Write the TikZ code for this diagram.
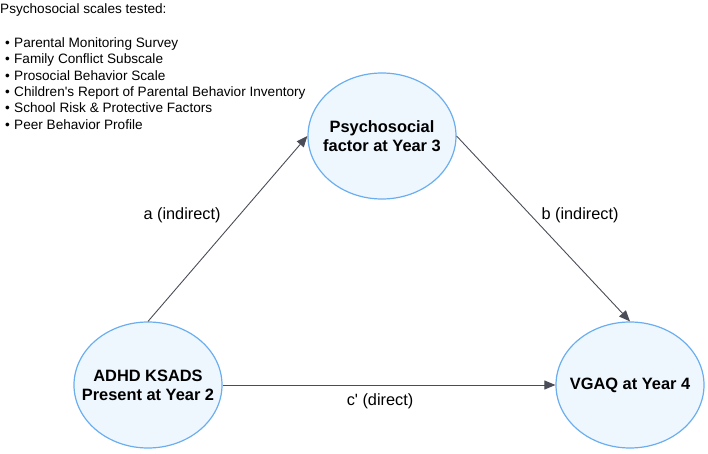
\documentclass[tikz,border=0pt]{standalone}
\usepackage{fontspec}
\setmainfont{Liberation Sans}
\usetikzlibrary{arrows.meta, shapes.geometric}
\definecolor{nodeline}{HTML}{6AAEF0}
\definecolor{nodefill}{HTML}{EEF7FE}
\definecolor{arrowgray}{HTML}{4A4D57}

\begin{document}
\begin{tikzpicture}[x=1pt, y=-1pt,
    factorbox/.style={ellipse, draw=nodeline, line width=1.2pt, fill=nodefill,
        minimum width=148pt, minimum height=126pt, inner xsep=-20pt, inner ysep=0pt,
        align=center, font=\fontsize{16.4}{19}\selectfont\bfseries},
    effect/.style={draw=arrowgray, line width=0.9pt, -{Triangle[length=11pt, width=9pt]}},
    pathtext/.style={inner sep=1pt, font=\fontsize{16.3}{19}\selectfont},
    scaleitem/.style={anchor=base west, inner sep=0pt, font=\fontsize{13.6}{16}\selectfont}]
    \useasboundingbox (0,0) rectangle (708,454);
    % list of scales
    \node[scaleitem] (heading) at (0,13.5) {Psychosocial scales tested:};
    \foreach \t [count=\i] in {Parental Monitoring Survey, Family Conflict Subscale,
        Prosocial Behavior Scale, Children\textquotesingle s Report of Parental Behavior Inventory,
        School Risk \& Protective Factors, Peer Behavior Profile}{
        \node[scaleitem] (scale\i) at (5,31.4+16.3*\i) {\makebox[9pt][l]{\textbullet}\t};
    }
    % mediation model
    \node[factorbox] (adhd) at (148,385) {ADHD KSADS\\Present at Year 2};
    \node[factorbox] (psy) at (382,136) {Psychosocial\\factor at Year 3};
    \node[factorbox] (vgaq) at (630,385) {VGAQ at Year 4};
    \draw[effect] (adhd.north) -- (psy.west);
    \draw[effect] (psy.east) -- (vgaq.north);
    \draw[effect] (adhd.east) -- (vgaq.west);
    \node[pathtext] (apath) at (182,215) {a (indirect)};
    \node[pathtext] (bpath) at (580,215) {b (indirect)};
    \node[pathtext] (cpath) at (380,401) {c\textquotesingle{} (direct)};
\end{tikzpicture}
\end{document}
